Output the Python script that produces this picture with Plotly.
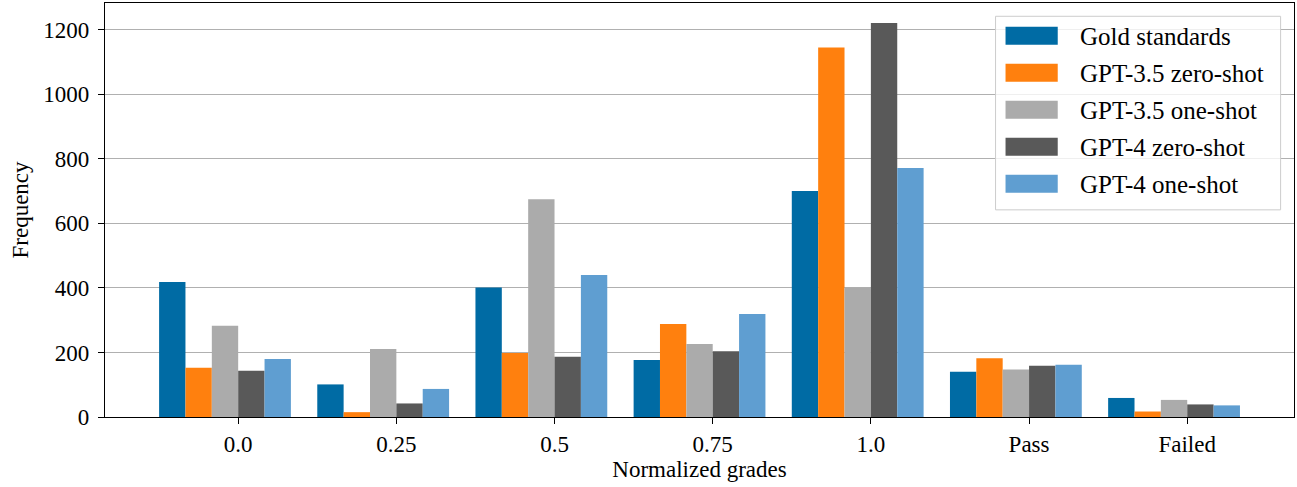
import plotly.graph_objects as go

categories = ["0.0", "0.25", "0.5", "0.75", "1.0", "Pass", "Failed"]
series_names = ["Gold standards", "GPT-3.5 zero-shot", "GPT-3.5 one-shot",
                "GPT-4 zero-shot", "GPT-4 one-shot"]
gold = [418, 101, 401, 177, 700, 140, 59]
gpt35_zero = [153, 15, 198, 288, 1145, 182, 17]
gpt35_one = [283, 211, 675, 226, 401, 147, 53]
gpt4_zero = [143, 42, 187, 204, 1221, 159, 39]
gpt4_one = [180, 87, 440, 319, 772, 162, 36]
colors = ["#006BA4", "#FF800E", "#ABABAB", "#595959", "#5F9ED1"]
y_ticks = [0, 200, 400, 600, 800, 1000, 1200]

series = [gold, gpt35_zero, gpt35_one, gpt4_zero, gpt4_one]
w = 1 / 6
xpos = list(range(len(categories)))

# plot-area geometry (pixels) used to place the legend box
W, H = 1297, 487
ML, MR, MT, MB = 104.5, 1.3, 3, 69.7
PW, PH = W - ML - MR, H - MT - MB


def px(x):
    return (x - ML) / PW


def py(y):
    return 1 - (y - MT) / PH


fig = go.Figure()
for k, (name, vals, col) in enumerate(zip(series_names, series, colors)):
    fig.add_trace(go.Bar(
        x=xpos, y=vals, name=name,
        width=w, offset=(k - 3) * w,
        marker=dict(color=col, line=dict(width=0)),
        showlegend=False,
    ))

font_family = "Liberation Serif, Times New Roman, serif"

# legend (matplotlib style: large swatches, framed box)
shapes = [dict(type="rect", xref="paper", yref="paper",
               x0=px(996.7), x1=px(1282.3), y0=py(210), y1=py(16.3),
               fillcolor="rgba(255,255,255,0.8)",
               line=dict(color="#cccccc", width=1), layer="above")]
annotations = []
for k, (name, col) in enumerate(zip(series_names, colors)):
    cy = 35.8 + 37 * k
    shapes.append(dict(type="rect", xref="paper", yref="paper",
                       x0=px(1006.7), x1=px(1059), y0=py(cy + 9), y1=py(cy - 9),
                       fillcolor=col, line=dict(width=0), layer="above"))
    annotations.append(dict(xref="paper", yref="paper", x=px(1079), y=py(cy + 1),
                            xanchor="left", yanchor="middle", showarrow=False,
                            text=name,
                            font=dict(family=font_family, size=25, color="black")))

fig.update_layout(
    width=W, height=H,
    margin=dict(l=ML, r=MR, t=MT, b=MB),
    barmode="overlay",
    plot_bgcolor="white", paper_bgcolor="white",
    font=dict(family=font_family, size=23, color="black"),
    showlegend=False,
    shapes=shapes,
    annotations=annotations,
    xaxis=dict(
        range=[-0.842, 6.675],
        tickmode="array", tickvals=xpos, ticktext=categories,
        showgrid=False, zeroline=False,
        showline=True, linecolor="black", linewidth=1.3, mirror=True,
        ticks="outside", ticklen=6, tickwidth=1.3, tickcolor="black",
        title=dict(text="Normalized grades", standoff=2,
                   font=dict(family=font_family, size=23)),
        tickfont=dict(family=font_family, size=23),
    ),
    yaxis=dict(
        range=[0, 1283],
        tickmode="array", tickvals=y_ticks,
        showgrid=True, gridcolor="#b0b0b0", gridwidth=1.3,
        zeroline=False,
        showline=True, linecolor="black", linewidth=1.3, mirror=True,
        ticks="outside", ticklen=6, tickwidth=1.3, tickcolor="black",
        ticklabelstandoff=4,
        title=dict(text="Frequency", standoff=8,
                   font=dict(family=font_family, size=23)),
        tickfont=dict(family=font_family, size=23),
    ),
)

fig.write_html("out.html")
